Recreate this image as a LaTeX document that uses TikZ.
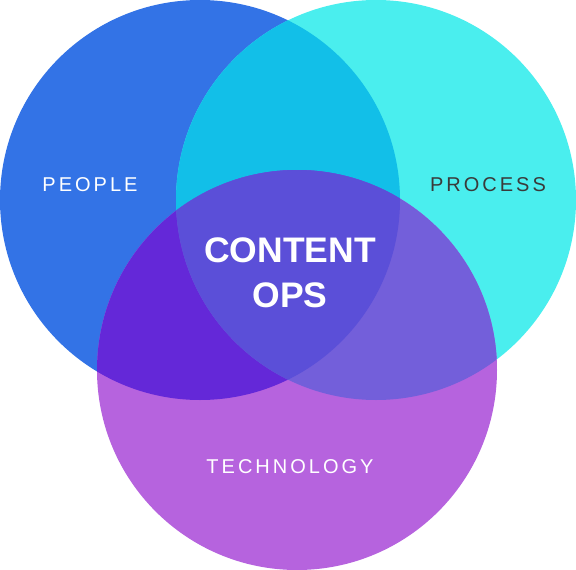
\documentclass[tikz,border=0pt]{standalone}
\usepackage{fontspec}
\setsansfont{Liberation Sans}
\definecolor{cpeople}{HTML}{3373E6}
\definecolor{cprocess}{HTML}{4AEEEE}
\definecolor{ctech}{HTML}{B663DE}
\definecolor{cpeopleprocess}{HTML}{12BFE8}
\definecolor{cpeopletech}{HTML}{6428D8}
\definecolor{cprocesstech}{HTML}{735FDA}
\definecolor{ccore}{HTML}{5B4FD8}
\definecolor{cdark}{HTML}{3A3A3A}
\tikzset{
	setlabel/.style={font=\sffamily\fontsize{20}{23}\selectfont\addfontfeature{LetterSpace=15}, text=white},
	corelabel/.style={font=\sffamily\bfseries\fontsize{35.5}{40}\selectfont, text=white}
}
\begin{document}
\begin{tikzpicture}[x=1pt, y=-1pt]
	\def\R{200pt}
	\useasboundingbox (0,0) rectangle (576,570);
	
	\coordinate (people) at (200,200);
	\coordinate (process) at (376,200);
	\coordinate (tech) at (297,370);
	
	% the three sets
	\fill[cpeople]	(people) circle (\R);
	\fill[cprocess]	(process) circle (\R);
	\fill[ctech]	(tech) circle (\R);
	
	% pairwise overlaps
	\begin{scope}
		\clip (people) circle (\R);
		\fill[cpeopleprocess] (process) circle (\R);
		\fill[cpeopletech] (tech) circle (\R);
	\end{scope}
	\begin{scope}
		\clip (process) circle (\R);
		\fill[cprocesstech] (tech) circle (\R);
	\end{scope}
	
	% middle
	\begin{scope}
		\clip (people) circle (\R);
		\clip (process) circle (\R);
		\fill[ccore] (tech) circle (\R);
	\end{scope}
	
	\node[setlabel] (lpeople) at (90,185) {PEOPLE};
	\node[setlabel, text=cdark] (lprocess) at (488,185) {PROCESS};
	\node[setlabel] (ltech) at (290,467) {TECHNOLOGY};
	\node[corelabel] (lcontent) at (290,250) {CONTENT};
	\node[corelabel] (lops) at (290,295) {OPS};
\end{tikzpicture}
\end{document}
